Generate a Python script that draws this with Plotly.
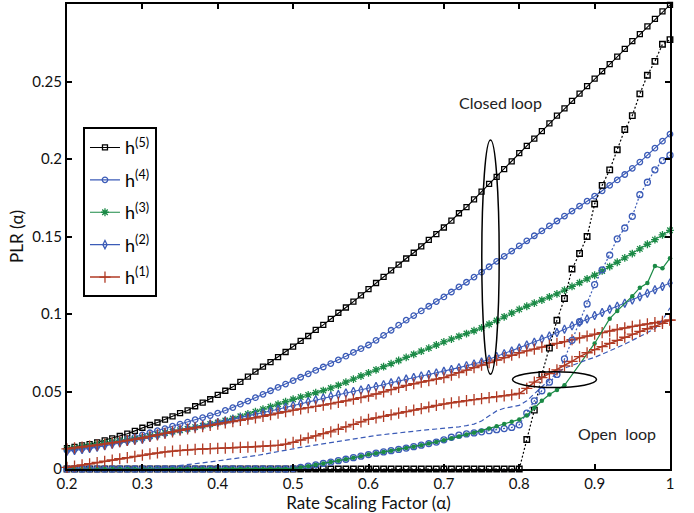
import plotly.graph_objects as go

# Rate scaling factor grid (alpha)
ALPHA = [0.20, 0.21, 0.22, 0.23, 0.24, 0.25, 0.26, 0.27, 0.28, 0.29,
         0.30, 0.31, 0.32, 0.33, 0.34, 0.35, 0.36, 0.37, 0.38, 0.39,
         0.40, 0.41, 0.42, 0.43, 0.44, 0.45, 0.46, 0.47, 0.48, 0.49,
         0.50, 0.51, 0.52, 0.53, 0.54, 0.55, 0.56, 0.57, 0.58, 0.59,
         0.60, 0.61, 0.62, 0.63, 0.64, 0.65, 0.66, 0.67, 0.68, 0.69,
         0.70, 0.71, 0.72, 0.73, 0.74, 0.75, 0.76, 0.77, 0.78, 0.79,
         0.80, 0.81, 0.82, 0.83, 0.84, 0.85, 0.86, 0.87, 0.88, 0.89,
         0.90, 0.91, 0.92, 0.93, 0.94, 0.95, 0.96, 0.97, 0.98, 0.99,
         1.00]

# ---- closed loop PLR ----
CLOSED_H5 = [0.0135, 0.0143, 0.0152, 0.0160, 0.0172, 0.0185, 0.0198, 0.0213, 0.0228, 0.0246,
             0.0266, 0.0284, 0.0300, 0.0318, 0.0340, 0.0360, 0.0378, 0.0405, 0.0428, 0.0450,
             0.0478, 0.0505, 0.0530, 0.0562, 0.0596, 0.0628, 0.0660, 0.0690, 0.0722, 0.0755,
             0.0790, 0.0826, 0.0858, 0.0898, 0.0930, 0.0968, 0.1008, 0.1042, 0.1080, 0.1120,
             0.1160, 0.1200, 0.1240, 0.1282, 0.1318, 0.1358, 0.1395, 0.1436, 0.1478, 0.1515,
             0.1558, 0.1602, 0.1650, 0.1690, 0.1740, 0.1790, 0.1840, 0.1885, 0.1935, 0.1985,
             0.2038, 0.2085, 0.2132, 0.2180, 0.2230, 0.2280, 0.2326, 0.2375, 0.2422, 0.2470,
             0.2518, 0.2566, 0.2612, 0.2660, 0.2710, 0.2760, 0.2806, 0.2856, 0.2904, 0.2952,
             0.2995]
CLOSED_H4 = [0.0120, 0.0126, 0.0134, 0.0142, 0.0150, 0.0160, 0.0170, 0.0182, 0.0194, 0.0206,
             0.0220, 0.0234, 0.0247, 0.0261, 0.0276, 0.0290, 0.0303, 0.0318, 0.0332, 0.0345,
             0.0360, 0.0378, 0.0396, 0.0418, 0.0438, 0.0460, 0.0482, 0.0505, 0.0526, 0.0548,
             0.0570, 0.0592, 0.0614, 0.0636, 0.0658, 0.0680, 0.0704, 0.0728, 0.0752, 0.0776,
             0.0800, 0.0830, 0.0862, 0.0895, 0.0928, 0.0960, 0.0990, 0.1020, 0.1050, 0.1080,
             0.1110, 0.1142, 0.1175, 0.1205, 0.1238, 0.1270, 0.1305, 0.1340, 0.1372, 0.1406,
             0.1440, 0.1472, 0.1505, 0.1536, 0.1568, 0.1600, 0.1632, 0.1664, 0.1696, 0.1728,
             0.1760, 0.1795, 0.1830, 0.1865, 0.1900, 0.1940, 0.1980, 0.2025, 0.2070, 0.2115,
             0.2160]
CLOSED_H3 = [0.0130, 0.0138, 0.0146, 0.0154, 0.0162, 0.0170, 0.0176, 0.0182, 0.0188, 0.0194,
             0.0202, 0.0212, 0.0222, 0.0232, 0.0241, 0.0250, 0.0260, 0.0270, 0.0280, 0.0290,
             0.0300, 0.0313, 0.0326, 0.0340, 0.0355, 0.0370, 0.0386, 0.0402, 0.0418, 0.0434,
             0.0450, 0.0464, 0.0478, 0.0492, 0.0506, 0.0522, 0.0540, 0.0560, 0.0580, 0.0600,
             0.0620, 0.0640, 0.0660, 0.0680, 0.0700, 0.0720, 0.0740, 0.0760, 0.0780, 0.0800,
             0.0820, 0.0838, 0.0856, 0.0874, 0.0892, 0.0910, 0.0934, 0.0958, 0.0982, 0.1006,
             0.1030, 0.1050, 0.1070, 0.1090, 0.1110, 0.1130, 0.1154, 0.1178, 0.1202, 0.1226,
             0.1250, 0.1278, 0.1306, 0.1334, 0.1362, 0.1390, 0.1420, 0.1450, 0.1480, 0.1510,
             0.1540]
CLOSED_H2 = [0.0115, 0.0120, 0.0126, 0.0133, 0.0141, 0.0150, 0.0160, 0.0170, 0.0178, 0.0185,
             0.0192, 0.0204, 0.0216, 0.0228, 0.0240, 0.0250, 0.0260, 0.0270, 0.0280, 0.0290,
             0.0300, 0.0310, 0.0320, 0.0330, 0.0340, 0.0350, 0.0362, 0.0374, 0.0386, 0.0398,
             0.0410, 0.0422, 0.0434, 0.0446, 0.0458, 0.0470, 0.0480, 0.0490, 0.0500, 0.0510,
             0.0520, 0.0532, 0.0544, 0.0556, 0.0568, 0.0580, 0.0590, 0.0600, 0.0610, 0.0620,
             0.0630, 0.0642, 0.0654, 0.0666, 0.0678, 0.0690, 0.0708, 0.0726, 0.0744, 0.0762,
             0.0780, 0.0800, 0.0818, 0.0838, 0.0858, 0.0880, 0.0902, 0.0924, 0.0946, 0.0968,
             0.0990, 0.1010, 0.1030, 0.1050, 0.1070, 0.1090, 0.1112, 0.1134, 0.1156, 0.1178,
             0.1200]
CLOSED_H1 = [0.0130, 0.0136, 0.0142, 0.0148, 0.0154, 0.0160, 0.0168, 0.0176, 0.0184, 0.0192,
             0.0200, 0.0210, 0.0220, 0.0230, 0.0240, 0.0250, 0.0258, 0.0266, 0.0274, 0.0282,
             0.0290, 0.0298, 0.0306, 0.0314, 0.0322, 0.0330, 0.0340, 0.0350, 0.0360, 0.0370,
             0.0380, 0.0388, 0.0396, 0.0404, 0.0412, 0.0420, 0.0430, 0.0440, 0.0450, 0.0460,
             0.0470, 0.0484, 0.0498, 0.0512, 0.0526, 0.0540, 0.0550, 0.0560, 0.0570, 0.0580,
             0.0590, 0.0606, 0.0622, 0.0638, 0.0654, 0.0670, 0.0686, 0.0702, 0.0718, 0.0734,
             0.0750, 0.0762, 0.0774, 0.0786, 0.0798, 0.0810, 0.0822, 0.0834, 0.0846, 0.0858,
             0.0870, 0.0880, 0.0890, 0.0900, 0.0910, 0.0920, 0.0928, 0.0936, 0.0944, 0.0952,
             0.0960]

# ---- open loop PLR ----
OPEN_H5 = [0, 0, 0, 0, 0, 0, 0, 0, 0, 0,
           0, 0, 0, 0, 0, 0, 0, 0, 0, 0,
           0, 0, 0, 0, 0, 0, 0, 0, 0, 0,
           0, 0, 0, 0, 0, 0, 0, 0, 0, 0,
           0, 0, 0, 0, 0, 0, 0, 0, 0, 0,
           0, 0, 0, 0, 0, 0, 0, 0, 0, 0,
           0.0000, 0.0190, 0.0380, 0.0610, 0.0780, 0.0960, 0.1100, 0.1290, 0.1390, 0.1500,
           0.1710, 0.1830, 0.1930, 0.2060, 0.2190, 0.2280, 0.2420, 0.2540, 0.2630, 0.2740,
           0.2770]
OPEN_H4 = [0, 0, 0, 0, 0, 0, 0, 0, 0, 0,
           0, 0, 0, 0, 0, 0, 0, 0, 0, 0,
           0, 0, 0, 0, 0, 0, 0, 0, 0, 0,
           0.0003, 0.0010, 0.0018, 0.0027, 0.0036, 0.0045, 0.0054, 0.0063, 0.0073, 0.0083,
           0.0093, 0.0102, 0.0110, 0.0118, 0.0126, 0.0135, 0.0144, 0.0154, 0.0164, 0.0174,
           0.0188, 0.0205, 0.0218, 0.0226, 0.0233, 0.0240, 0.0247, 0.0254, 0.0261, 0.0268,
           0.0285, 0.0360, 0.0440, 0.0505, 0.0560, 0.0610, 0.0710, 0.0830, 0.0950, 0.1065,
           0.1190, 0.1285, 0.1380, 0.1485, 0.1555, 0.1630, 0.1770, 0.1850, 0.1930, 0.1990,
           0.2025]
ALPHA_OPEN_H3 = [0.20, 0.21, 0.22, 0.23, 0.24, 0.25, 0.26, 0.27, 0.28, 0.29,
                 0.30, 0.31, 0.32, 0.33, 0.34, 0.35, 0.36, 0.37, 0.38, 0.39,
                 0.40, 0.41, 0.42, 0.43, 0.44, 0.45, 0.46, 0.47, 0.48, 0.49,
                 0.50, 0.51, 0.52, 0.53, 0.54, 0.55, 0.56, 0.57, 0.58, 0.59,
                 0.60, 0.61, 0.62, 0.63, 0.64, 0.65, 0.66, 0.67, 0.68, 0.69,
                 0.70, 0.71, 0.72, 0.73, 0.74, 0.75, 0.76, 0.77, 0.78, 0.79,
                 0.80, 0.81, 0.82, 0.83, 0.84, 0.85, 0.86,
                 0.90, 0.92, 0.93, 0.95, 0.96, 0.97, 0.98, 0.99, 1.00]
OPEN_H3 = [0, 0, 0, 0, 0, 0, 0, 0, 0, 0,
           0, 0, 0, 0, 0, 0, 0, 0, 0, 0,
           0, 0, 0, 0, 0, 0, 0, 0, 0, 0,
           0.0003, 0.0010, 0.0018, 0.0027, 0.0036, 0.0045, 0.0054, 0.0063, 0.0073, 0.0083,
           0.0093, 0.0102, 0.0110, 0.0118, 0.0126, 0.0135, 0.0144, 0.0154, 0.0164, 0.0174,
           0.0186, 0.0198, 0.0210, 0.0222, 0.0234, 0.0246, 0.0262, 0.0276, 0.0290, 0.0305,
           0.0320, 0.0345, 0.0395, 0.0440, 0.0480, 0.0510, 0.0540,
           0.0810, 0.0970, 0.1020, 0.1115, 0.1170, 0.1200, 0.1310, 0.1295, 0.1360]
OPEN_H2 = [0, 0, 0, 0, 0, 0, 0, 0, 0, 0,
           0, 0, 0.0005, 0.0010, 0.0016, 0.0022, 0.0028, 0.0034, 0.0040, 0.0046,
           0.0052, 0.0058, 0.0065, 0.0072, 0.0079, 0.0086, 0.0094, 0.0102, 0.0110, 0.0118,
           0.0130, 0.0140, 0.0148, 0.0156, 0.0163, 0.0170, 0.0178, 0.0186, 0.0194, 0.0202,
           0.0210, 0.0216, 0.0222, 0.0228, 0.0234, 0.0240, 0.0245, 0.0250, 0.0254, 0.0258,
           0.0262, 0.0266, 0.0272, 0.0280, 0.0290, 0.0310, 0.0345, 0.0375, 0.0392, 0.0402,
           0.0410, 0.0440, 0.0485, 0.0530, 0.0580, 0.0620, 0.0650, 0.0670, 0.0690, 0.0705,
           0.0720, 0.0740, 0.0760, 0.0780, 0.0805, 0.0830, 0.0855, 0.0880, 0.0905, 0.0960,
           0.1040]
OPEN_H1 = [0.0010, 0.0018, 0.0026, 0.0034, 0.0042, 0.0050, 0.0058, 0.0066, 0.0074, 0.0082,
           0.0090, 0.0097, 0.0104, 0.0110, 0.0115, 0.0120, 0.0123, 0.0126, 0.0129, 0.0131,
           0.0133, 0.0135, 0.0137, 0.0139, 0.0141, 0.0143, 0.0146, 0.0149, 0.0153, 0.0160,
           0.0172, 0.0186, 0.0200, 0.0214, 0.0228, 0.0240, 0.0256, 0.0272, 0.0288, 0.0304,
           0.0320, 0.0330, 0.0340, 0.0350, 0.0360, 0.0370, 0.0380, 0.0390, 0.0400, 0.0410,
           0.0420, 0.0427, 0.0434, 0.0441, 0.0448, 0.0454, 0.0460, 0.0466, 0.0472, 0.0478,
           0.0487, 0.0520, 0.0560, 0.0590, 0.0615, 0.0640, 0.0665, 0.0695, 0.0725, 0.0750,
           0.0770, 0.0790, 0.0810, 0.0830, 0.0850, 0.0870, 0.0888, 0.0905, 0.0920, 0.0940,
           0.0960]

X_TICKS = [0.2, 0.3, 0.4, 0.5, 0.6, 0.7, 0.8, 0.9, 1.0]
X_TICK_TEXT = ["0.2", "0.3", "0.4", "0.5", "0.6", "0.7", "0.8", "0.9", "1"]
Y_TICKS = [0, 0.05, 0.1, 0.15, 0.2, 0.25]
Y_TICK_TEXT = ["0", "0.05", "0.1", "0.15", "0.2", "0.25"]

BLACK = "#000000"
BLUE = "#3b5bb7"
GREEN = "#1b8a46"
RED = "#b03a24"
FONT = "Lato"

fig = go.Figure()

closed = [
    ("h<sup>(5)</sup>", CLOSED_H5, BLACK, "square-open", 5, 1.1),
    ("h<sup>(4)</sup>", CLOSED_H4, BLUE, "circle-open", 5.5, 1.1),
    ("h<sup>(3)</sup>", CLOSED_H3, GREEN, "asterisk-open", 6.5, 1.1),
    ("h<sup>(2)</sup>", CLOSED_H2, BLUE, "diamond-tall-open", 6, 1.1),
    ("h<sup>(1)</sup>", CLOSED_H1, RED, "cross-thin-open", 8, 1.5),
]
for i, (name, ys, color, symbol, size, lw) in enumerate(closed):
    fig.add_trace(go.Scatter(
        x=ALPHA, y=ys, name=name, legendgroup=f"g{i}", mode="lines+markers", cliponaxis=False,
        line=dict(color=color, width=lw),
        marker=dict(symbol=symbol, size=size, color=color,
                    line=dict(color=color, width=1.3)),
    ))

# open loop curves (not in legend)
fig.add_trace(go.Scatter(
    x=ALPHA, y=OPEN_H5, mode="lines+markers", showlegend=False, cliponaxis=False,
    line=dict(color=BLACK, width=1.2, dash="2px,2px"),
    marker=dict(symbol="square-open", size=5.5, color=BLACK, line=dict(color=BLACK, width=1.4)),
))
fig.add_trace(go.Scatter(
    x=ALPHA, y=OPEN_H4, mode="lines+markers", showlegend=False, cliponaxis=False,
    line=dict(color=BLUE, width=1.2, dash="2px,2px"),
    marker=dict(symbol="circle-open", size=6, color=BLUE, line=dict(color=BLUE, width=1.3)),
))
fig.add_trace(go.Scatter(
    x=ALPHA_OPEN_H3, y=OPEN_H3, mode="lines+markers", showlegend=False, cliponaxis=False,
    line=dict(color=GREEN, width=1.2),
    marker=dict(symbol="circle", size=4.5, color=GREEN),
))
fig.add_trace(go.Scatter(
    x=ALPHA, y=OPEN_H2, mode="lines", showlegend=False, cliponaxis=False,
    line=dict(color=BLUE, width=1.2, dash="5px,3px"),
))
fig.add_trace(go.Scatter(
    x=ALPHA, y=OPEN_H1, mode="lines+markers", showlegend=False, cliponaxis=False,
    line=dict(color=RED, width=1.5),
    marker=dict(symbol="cross-thin-open", size=8, color=RED, line=dict(color=RED, width=1.3)),
))

# grouping ellipses
fig.add_shape(type="circle", xref="x", yref="y", x0=0.7503, x1=0.7734, y0=0.0612, y1=0.2122,
              line=dict(color=BLACK, width=1.5))
fig.add_shape(type="circle", xref="x", yref="y", x0=0.791, x1=0.9025, y0=0.0526, y1=0.0628,
              line=dict(color=BLACK, width=1.5))

fig.add_annotation(x=0.775, y=0.2365, xref="x", yref="y", text="Closed loop", showarrow=False,
                   font=dict(family=FONT, size=16, color="#222"))
fig.add_annotation(x=0.930, y=0.0231, xref="x", yref="y", text="Open\u00a0 loop", showarrow=False,
                   font=dict(family=FONT, size=16, color="#222"))

axis_common = dict(showline=True, mirror="ticks", linecolor=BLACK, linewidth=2,
                   ticks="inside", ticklen=5, tickwidth=1.5, tickcolor=BLACK,
                   showgrid=False, zeroline=False,
                   tickfont=dict(family=FONT, size=15, color="#111"))

fig.update_layout(
    width=694, height=513,
    margin=dict(l=67, r=24, t=2, b=44),
    paper_bgcolor="white", plot_bgcolor="white",
    font=dict(family=FONT, size=15, color="#111"),
    xaxis=dict(range=[0.2, 1.0], tickvals=X_TICKS, ticktext=X_TICK_TEXT,
               title=dict(text="Rate Scaling Factor (α)", font=dict(family=FONT, size=17), standoff=2),
               **axis_common),
    yaxis=dict(range=[0, 0.3], tickvals=Y_TICKS, ticktext=Y_TICK_TEXT,
               title=dict(text="PLR (α)", font=dict(family=FONT, size=17), standoff=4),
               **axis_common),
    legend=dict(x=0.0265, y=0.735, xanchor="left", yanchor="top",
                bgcolor="white", bordercolor=BLACK, borderwidth=2,
                font=dict(family=FONT, size=18, color=BLACK),
                itemwidth=30, tracegroupgap=6),
    showlegend=True,
)

fig.write_html("out.html")
